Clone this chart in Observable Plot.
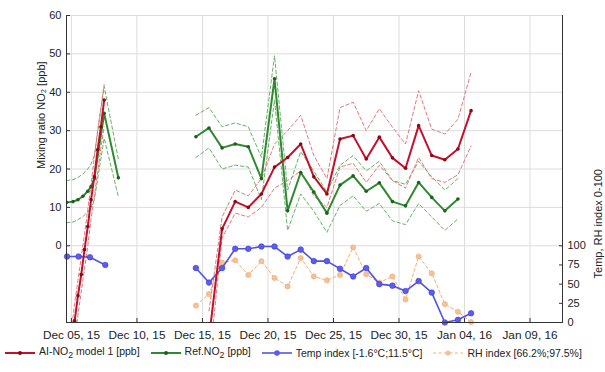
<!DOCTYPE html>
<html><head><meta charset="utf-8">
<script src="https://cdn.jsdelivr.net/npm/d3@7"></script>
<script src="https://cdn.jsdelivr.net/npm/@observablehq/plot@0.6"></script>
<style>
body{margin:0;background:#fff;font-family:"Liberation Sans",Arial,sans-serif;}
#chart{width:605px;height:372px;overflow:hidden;position:relative}
.legend{display:flex;align-items:center;font-size:10.5px;color:#222;height:16px;padding-left:4px;margin-top:3px;white-space:nowrap}
.legend .item{display:inline-flex;align-items:center;margin-right:10px}
.legend svg{margin-right:3px}
</style></head><body><div id="chart"></div><script>
// ---- axes / ticks ----
const xDomain = ["2015-12-04T15:00Z", "2016-01-11T11:30Z"];
const xTickDates = ["2015-12-05", "2015-12-10", "2015-12-15", "2015-12-20", "2015-12-25", "2015-12-30", "2016-01-04", "2016-01-09"];
const yDomain = [-20, 60];
const yTicksLeft = [0, 10, 20, 30, 40, 50, 60];
const rightDomain = [0, 100];
const yTicksRight = [0, 25, 50, 75, 100];
const leftLabel = "Mixing ratio NO₂ [ppb]";
const rightLabel = "Temp, RH index 0-100";

// ---- early segment (sub-daily) ----
const earlyAiTimes = ["2015-12-05T00:00Z","2015-12-05T06:00Z","2015-12-05T12:00Z","2015-12-05T18:00Z","2015-12-06T00:00Z","2015-12-06T06:00Z","2015-12-06T12:00Z","2015-12-06T18:00Z","2015-12-07T00:00Z","2015-12-07T06:00Z","2015-12-07T12:00Z"];
const earlyAi   = [-26, -19.5, -13, -7.5, -1, 5, 12, 18, 25, 31, 38];
const earlyAiHi = [-22, -15, -9, -3, 3, 9.5, 16, 23, 30, 36, 42];
const earlyAiLo = [-31, -25, -18, -12, -6, 0, 7, 13, 19, 25.5, 31];

const earlyRefTimes = ["2015-12-04T15:00Z","2015-12-05T03:00Z","2015-12-05T12:00Z","2015-12-05T21:00Z","2015-12-06T06:00Z","2015-12-06T12:00Z","2015-12-06T18:00Z","2015-12-07T12:00Z","2015-12-08T14:00Z"];
const earlyRef   = [11.3, 11.5, 12.0, 12.9, 14.2, 15.4, 17.5, 34.5, 17.7];
const earlyRefHi = [17, 17.2, 17.8, 18.7, 20, 21.3, 23.5, 41.5, 22.5];
const earlyRefLo = [6, 6.2, 6.8, 7.6, 8.8, 10, 12, 28, 12.8];

const earlyTempTimes = ["2015-12-04T16:00Z","2015-12-05T13:00Z","2015-12-06T10:00Z","2015-12-07T14:00Z"];
const earlyTemp = [86, 86, 85, 75];

// ---- daily segment (noon values) ----
const dailyDates = ["2015-12-14","2015-12-15","2015-12-16","2015-12-17","2015-12-18","2015-12-19","2015-12-20","2015-12-21","2015-12-22","2015-12-23","2015-12-24","2015-12-25","2015-12-26","2015-12-27","2015-12-28","2015-12-29","2015-12-30","2015-12-31","2016-01-01","2016-01-02","2016-01-03","2016-01-04"];
const aiNO2 = [null, -24, 4.4, 11.5, 10, 13.5, 20.5, 23, 26.5, 18, 13.5, 27.8, 28.7, 22.6, 28.3, 22.9, 20.2, 31.3, 23.5, 22.4, 25.2, 35.2];
const aiHi  = [null, -17, 7.5, 14.5, 13, 17.5, 26.5, 30, 34, 23.5, 17.5, 36, 37.4, 30, 35.7, 30.9, 26.5, 40.4, 30.4, 29.1, 33, 45.2];
const aiLo  = [null, -31, 2, 8.5, 7.5, 10, 15, 17, 19.5, 13, 10, 20.5, 21.5, 16.5, 21, 17, 15, 23, 17.5, 16.5, 18.5, 26];
const refNO2 = [28.4, 30.7, 25.5, 26.5, 25.8, 17.5, 43.5, 9.1, 19.1, 14, 8.5, 15.8, 18.2, 14.2, 16.4, 11.5, 10.4, 16.5, 12.6, 9.1, 12.2, null];
const refHi  = [34, 36, 31, 32, 31, 23, 49.5, 14.5, 24.5, 19.5, 14, 21, 23.5, 19.5, 22, 17, 16, 22, 18, 14.5, 17.5, null];
const refLo  = [23, 25.5, 20, 21, 20.5, 12, 38, 4, 13.5, 9, 3.5, 10.5, 13, 9, 11, 6.5, 5.5, 11, 7.5, 4, 7, null];
const tempIdx = [71, 52, 71, 96, 96, 99, 99, 86, 95, 80, 80, 70, 60, 71, 50, 48, 41, 54, 39, 0, 3.5, 12];
const rhIdx   = [22, 37, 78, 81, 62, 80, 58, 47, 84, 60, 55, 62, 98, 63, 52, 60, 30, 86, 64, 24, 14, 0.5];

// ---- legend ----
const legendLabels = ["AI-NO<sub>2</sub> model 1 [ppb]", "Ref.NO<sub>2</sub> [ppb]", "Temp index [-1.6°C;11.5°C]", "RH index [66.2%;97.5%]"];

// ---- colours ----
const C = {ai:"#c4102c", aiDot:"#8a0a14", aiBand:"#e07a7a", ref:"#2f8a2f", refDot:"#1f5f1f", refBand:"#66b266", temp:"#5252e6", tempDot:"#5c5cf0", rh:"#f3ad78", rhDot:"#f6bf94"};

// ---- build tables ----
const toLeft = d3.scaleLinear(rightDomain, [-20, 0]);
function rows(times, vals, seg, fn = v => v) {
  return times.map((t, i) => ({t: new Date(t), v: vals[i] == null ? null : fn(vals[i]), seg})).filter(d => d.v != null);
}
const dailyTimes = dailyDates.map(d => d + "T12:00Z");
const aiRows = [...rows(earlyAiTimes, earlyAi, "a"), ...rows(dailyTimes, aiNO2, "b")];
const aiHiRows = [...rows(earlyAiTimes, earlyAiHi, "a"), ...rows(dailyTimes, aiHi, "b")];
const aiLoRows = [...rows(earlyAiTimes, earlyAiLo, "a"), ...rows(dailyTimes, aiLo, "b")];
const refRows = [...rows(earlyRefTimes, earlyRef, "a"), ...rows(dailyTimes, refNO2, "b")];
const refHiRows = [...rows(earlyRefTimes, earlyRefHi, "a"), ...rows(dailyTimes, refHi, "b")];
const refLoRows = [...rows(earlyRefTimes, earlyRefLo, "a"), ...rows(dailyTimes, refLo, "b")];
const tempRows = [...rows(earlyTempTimes, earlyTemp, "a", toLeft), ...rows(dailyTimes, tempIdx, "b", toLeft)];
const rhRows = rows(dailyTimes, rhIdx, "b", toLeft);

const xTicks = xTickDates.map(d => new Date(d + "T00:00Z"));
const xd = xDomain.map(d => new Date(d));
const fmt = d3.utcFormat("%b %d, %y");

const dash = {strokeDasharray: "3.5,2.5", strokeWidth: 1, clip: true};
const chart = Plot.plot({
  width: 605, height: 342,
  marginTop: 15, marginBottom: 20, marginLeft: 66, marginRight: 43,
  style: {fontFamily: "'Liberation Sans', Arial, sans-serif", fontSize: "12px", color: "#222", background: "#fff"},
  x: {type: "utc", domain: xd},
  y: {domain: yDomain},
  marks: [
    Plot.gridY(yTicksLeft, {stroke: "#dcdcdc", strokeOpacity: 1}),
    Plot.gridX(xTicks, {stroke: "#dcdcdc", strokeOpacity: 1}),
    Plot.line(refHiRows, {x: "t", y: "v", z: "seg", stroke: C.refBand, ...dash}),
    Plot.line(refLoRows, {x: "t", y: "v", z: "seg", stroke: C.refBand, ...dash}),
    Plot.line(aiHiRows, {x: "t", y: "v", z: "seg", stroke: C.aiBand, ...dash}),
    Plot.line(aiLoRows, {x: "t", y: "v", z: "seg", stroke: C.aiBand, ...dash}),
    Plot.line(rhRows, {x: "t", y: "v", z: "seg", stroke: C.rh, strokeWidth: 1, strokeDasharray: "3,2.5"}),
    Plot.dot(rhRows, {x: "t", y: "v", r: 2.6, fill: C.rhDot, stroke: C.rh, strokeWidth: 0.6}),
    Plot.line(tempRows, {x: "t", y: "v", z: "seg", stroke: C.temp, strokeWidth: 1.6}),
    Plot.dot(tempRows, {x: "t", y: "v", r: 2.8, fill: C.tempDot, stroke: "#3a3ad0", strokeWidth: 0.6}),
    Plot.line(refRows, {x: "t", y: "v", z: "seg", stroke: C.ref, strokeWidth: 2, clip: true}),
    Plot.dot(refRows, {x: "t", y: "v", r: 1.8, fill: C.refDot, clip: true}),
    Plot.line(aiRows, {x: "t", y: "v", z: "seg", stroke: C.ai, strokeWidth: 2, clip: true}),
    Plot.dot(aiRows, {x: "t", y: "v", r: 1.8, fill: C.aiDot, clip: true}),
    Plot.ruleY([yDomain[0]], {stroke: "#333", strokeWidth: 1}),
    Plot.ruleX(xd, {stroke: "#333", strokeWidth: 1}),
    Plot.axisY(yTicksLeft, {anchor: "left", label: null, tickSize: -4, tickPadding: 9, fontSize: 11, stroke: "#333"}),
    Plot.axisY(yTicksRight.map(toLeft), {anchor: "right", label: null, tickSize: -4, tickPadding: 9, fontSize: 11, tickFormat: d => String(Math.round(toLeft.invert(d))), stroke: "#333"}),
    Plot.axisX(xTicks, {anchor: "bottom", label: null, tickSize: -4, tickPadding: 12, fontSize: 11.8, tickFormat: fmt, stroke: "#333"}),
    Plot.text([leftLabel], {frameAnchor: "left", dx: -25, rotate: -90, text: d => d, fontSize: 11, fill: "#222"}),
    Plot.text([rightLabel], {frameAnchor: "right", dx: 36, rotate: -90, text: d => d, fontSize: 11, fill: "#222"})
  ]
});
const root = document.getElementById("chart");
root.appendChild(chart);

const swatch = [
  {stroke: C.ai, w: 2, dash: "", fill: C.aiDot, r: 2},
  {stroke: C.ref, w: 2, dash: "", fill: C.refDot, r: 2},
  {stroke: C.temp, w: 1.6, dash: "", fill: C.tempDot, r: 2.8},
  {stroke: C.rh, w: 1, dash: "3,2.5", fill: C.rhDot, r: 2.6}
];
const lg = document.createElement("div");
lg.className = "legend";
lg.innerHTML = legendLabels.map((lab, i) => {
  const s = swatch[i];
  return `<span class="item"><svg width="32" height="10"><line x1="1" x2="31" y1="5" y2="5" stroke="${s.stroke}" stroke-width="${s.w}" stroke-dasharray="${s.dash}"/><circle cx="16" cy="5" r="${s.r}" fill="${s.fill}"/></svg><span>${lab}</span></span>`;
}).join("");
root.appendChild(lg);
</script></body></html>
